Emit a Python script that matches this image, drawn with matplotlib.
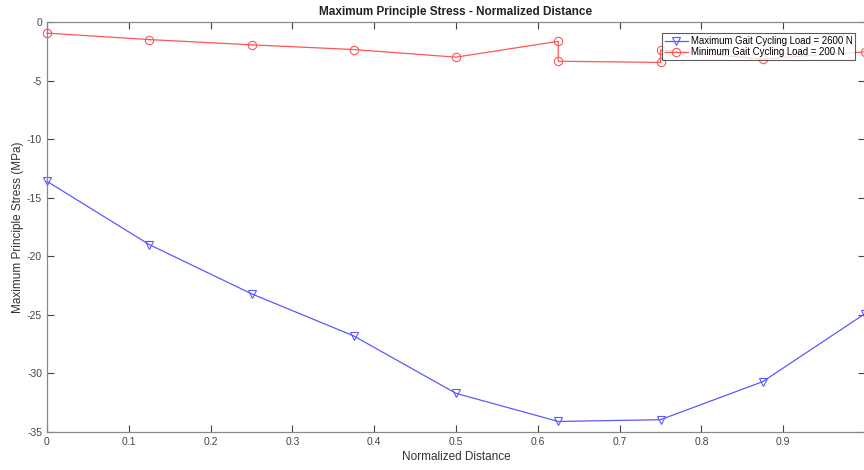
import matplotlib
matplotlib.use("Agg")
import matplotlib.pyplot as plt
from matplotlib.ticker import MultipleLocator

plt.rcParams['font.family'] = ['Liberation Sans', 'DejaVu Sans']
plt.rcParams['axes.unicode_minus'] = False

# data
dist_max = [0.0, 0.125, 0.25, 0.375, 0.5, 0.625, 0.75, 0.875, 1.0]
stress_max = [-13.6, -19.0, -23.2, -26.8, -31.7, -34.1, -33.95, -30.7, -24.9]

dist_min = [0.0, 0.125, 0.25, 0.375, 0.5, 0.625, 0.625, 0.75, 0.75, 0.875, 1.0]
stress_min = [-0.95, -1.5, -1.95, -2.35, -3.0, -1.65, -3.35, -3.45, -2.4, -3.15, -2.55]

label_max = "Maximum Gait Cycling Load = 2600 N"
label_min = "Minimum Gait Cycling Load = 200 N"

fig = plt.figure(figsize=(8.64, 4.70), dpi=100)
ax = fig.add_axes([47 / 864, 1 - 432 / 470, 818 / 864, 410 / 470])

ax.plot(dist_max, stress_max, color='#5a5aff', linewidth=0.9, marker='v',
        markersize=6, markerfacecolor='none', markeredgewidth=0.8, label=label_max,
        clip_on=False)
ax.plot(dist_min, stress_min, color='#ff5555', linewidth=0.9, marker='o',
        markersize=6, markerfacecolor='none', markeredgewidth=0.8, label=label_min,
        clip_on=False)

ax.set_xlim(0, 1)
ax.set_ylim(-35, 0)
ax.xaxis.set_major_locator(MultipleLocator(0.1))
ax.yaxis.set_major_locator(MultipleLocator(5))

for sp in ax.spines.values():
    sp.set_color('#888888')
    sp.set_linewidth(0.9)
ax.tick_params(direction='in', top=True, right=True, length=5, width=0.8,
               colors='#444444', labelsize=7.5, labelcolor='#444444')
xt = ax.get_xticks()
ax.set_xticklabels(['0' if v == 0 else ('' if v >= 1 else f'{v:.1f}') for v in xt])

ax.set_xlabel('Normalized Distance', fontsize=8.5, color='#333333', labelpad=3)
ax.set_ylabel('Maximum Principle Stress (MPa)', fontsize=8.5, color='#333333', labelpad=2)
ax.set_title('Maximum Principle Stress - Normalized Distance', fontsize=8.5,
             fontweight='bold', color='#222222', pad=5)

leg = ax.legend(loc='upper right', bbox_to_anchor=(0.988, 0.973), fontsize=6.9,
                frameon=True, fancybox=False, borderpad=0.3, labelspacing=0.15,
                handlelength=2.4, handletextpad=0.3, borderaxespad=0)
leg.get_frame().set_edgecolor('#333333')
leg.get_frame().set_linewidth(0.8)

fig.savefig('out.png', dpi=100)
